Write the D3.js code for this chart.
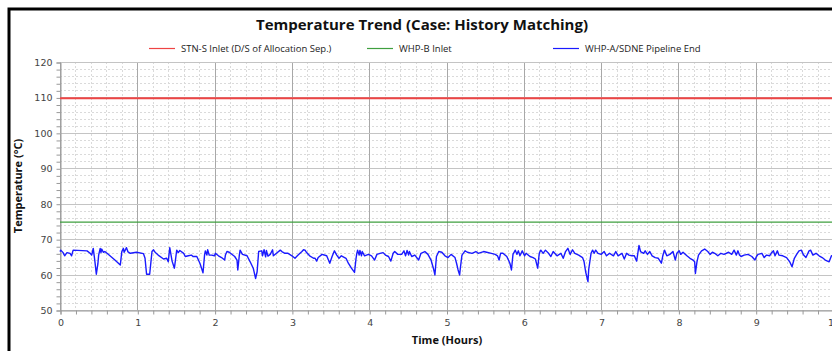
<!DOCTYPE html>
<html>
<head>
<meta charset="utf-8">
<script src="https://cdn.jsdelivr.net/npm/d3@7"></script>
<style>
  body { margin: 0; background: #fff; }
  svg { display: block; }
</style>
</head>
<body>
<div id="chart"></div>
<script>
// ---- data ----
var chartTitle = "Temperature Trend (Case: History Matching)";
var seriesNames = ["STN-S Inlet (D/S of Allocation Sep.)", "WHP-B Inlet", "WHP-A/SDNE Pipeline End"];
var seriesColors = ["#ee4444", "#3f9f3f", "#1a1aff"];
var xTicks = [0, 1, 2, 3, 4, 5, 6, 7, 8, 9, 10];
var yTicks = [50, 60, 70, 80, 90, 100, 110, 120];

// flat series (start / end of run)
var stnInlet = [[0, 109.8], [10, 109.8]];
var whpbInlet = [[0, 74.8], [10, 74.8]];

// WHP-A/SDNE pipeline end [hour, degC]
var pipelineEnd = [
  [0.00, 66.5], [0.01, 66.9], [0.04, 66.2], [0.06, 65.3], [0.09, 66.2], [0.13, 66.0], [0.15, 65.3],
  [0.17, 66.9], [0.35, 66.7], [0.39, 66.0], [0.41, 65.5], [0.43, 67.4], [0.45, 64.0], [0.47, 60.1],
  [0.49, 63.0], [0.50, 65.5], [0.52, 67.4], [0.53, 66.2], [0.54, 67.2], [0.56, 66.3], [0.58, 66.5],
  [0.62, 65.8], [0.71, 64.1], [0.78, 62.7], [0.80, 66.5], [0.82, 67.4], [0.83, 66.3], [0.86, 67.6],
  [0.88, 66.4], [0.91, 66.0], [0.99, 66.3], [1.08, 65.9], [1.10, 64.6], [1.12, 60.1], [1.16, 60.1],
  [1.19, 66.5], [1.21, 67.0], [1.23, 66.3], [1.27, 65.5], [1.34, 64.4], [1.38, 64.6], [1.40, 63.6],
  [1.42, 67.6], [1.45, 63.8], [1.48, 61.8], [1.51, 66.9], [1.53, 66.2], [1.55, 66.8], [1.60, 66.0],
  [1.62, 65.1], [1.66, 65.3], [1.70, 65.5], [1.72, 65.1], [1.77, 65.1], [1.81, 63.2], [1.85, 60.5],
  [1.87, 65.5], [1.88, 66.7], [1.90, 65.5], [1.91, 67.0], [1.93, 65.5], [1.96, 65.5], [2.00, 65.3],
  [2.01, 66.0], [2.05, 65.3], [2.09, 64.8], [2.13, 64.1], [2.14, 65.5], [2.16, 66.5], [2.19, 66.3],
  [2.26, 65.1], [2.29, 64.1], [2.30, 61.3], [2.32, 65.5], [2.33, 66.9], [2.36, 65.7], [2.42, 65.3],
  [2.46, 63.6], [2.50, 61.8], [2.53, 58.9], [2.55, 60.8], [2.57, 66.5], [2.61, 66.7], [2.62, 65.3],
  [2.64, 67.0], [2.66, 65.0], [2.67, 66.8], [2.69, 65.2], [2.72, 65.7], [2.75, 67.0], [2.76, 65.3],
  [2.80, 66.0], [2.85, 66.9], [2.87, 66.5], [2.91, 66.0], [2.95, 66.0], [3.00, 65.3], [3.04, 64.6],
  [3.08, 65.5], [3.13, 66.5], [3.15, 67.0], [3.17, 66.9], [3.19, 66.2], [3.23, 65.3], [3.28, 64.6],
  [3.30, 64.6], [3.32, 63.8], [3.34, 64.8], [3.39, 65.7], [3.45, 65.3], [3.49, 63.2], [3.52, 65.1],
  [3.55, 66.7], [3.58, 65.5], [3.61, 64.6], [3.64, 65.3], [3.70, 64.6], [3.73, 63.2], [3.77, 61.8],
  [3.81, 60.6], [3.83, 64.6], [3.84, 66.0], [3.85, 66.9], [3.87, 65.5], [3.88, 66.8], [3.90, 65.3],
  [3.91, 66.5], [3.94, 65.3], [3.99, 65.7], [4.03, 65.3], [4.07, 64.1], [4.10, 65.7], [4.14, 66.0],
  [4.18, 66.2], [4.21, 65.5], [4.25, 65.1], [4.28, 63.8], [4.31, 66.0], [4.33, 66.5], [4.37, 65.7],
  [4.42, 65.7], [4.45, 66.7], [4.47, 65.3], [4.49, 66.8], [4.51, 65.5], [4.52, 66.5], [4.55, 65.1],
  [4.59, 65.5], [4.64, 64.1], [4.67, 66.0], [4.72, 66.5], [4.76, 65.7], [4.80, 64.1], [4.83, 61.8],
  [4.85, 59.9], [4.87, 65.1], [4.90, 66.5], [4.94, 66.3], [4.98, 65.3], [5.02, 64.8], [5.06, 65.7],
  [5.11, 64.8], [5.13, 63.2], [5.15, 61.3], [5.17, 59.9], [5.18, 62.0], [5.20, 65.5], [5.24, 66.7],
  [5.27, 66.3], [5.33, 66.0], [5.38, 66.5], [5.41, 66.0], [5.48, 66.5], [5.52, 66.3], [5.58, 66.0],
  [5.63, 65.7], [5.66, 65.3], [5.68, 64.1], [5.70, 66.0], [5.73, 66.0], [5.78, 65.1], [5.82, 63.2],
  [5.84, 61.3], [5.86, 65.7], [5.89, 66.9], [5.91, 65.7], [5.93, 66.7], [5.95, 65.3], [5.98, 66.7],
  [6.01, 65.3], [6.03, 66.0], [6.08, 65.1], [6.12, 64.8], [6.15, 64.4], [6.18, 61.8], [6.20, 66.0],
  [6.22, 66.9], [6.25, 66.0], [6.28, 66.9], [6.32, 66.0], [6.35, 65.1], [6.38, 66.5], [6.43, 65.3],
  [6.48, 66.0], [6.51, 64.6], [6.54, 66.5], [6.57, 67.4], [6.60, 65.7], [6.63, 67.0], [6.66, 66.0],
  [6.71, 65.5], [6.76, 64.8], [6.78, 63.6], [6.80, 60.8], [6.83, 58.0], [6.84, 61.5], [6.87, 66.0],
  [6.89, 66.9], [6.91, 66.0], [6.93, 66.9], [6.96, 66.0], [7.00, 65.7], [7.04, 66.5], [7.07, 65.3],
  [7.11, 66.0], [7.16, 65.3], [7.19, 66.5], [7.22, 65.3], [7.27, 66.0], [7.30, 64.4], [7.33, 66.0],
  [7.36, 65.5], [7.40, 65.3], [7.43, 65.3], [7.46, 63.8], [7.49, 68.2], [7.51, 66.5], [7.55, 66.0],
  [7.57, 66.7], [7.60, 65.7], [7.63, 66.5], [7.66, 65.3], [7.70, 64.8], [7.74, 64.6], [7.78, 63.2],
  [7.80, 65.5], [7.82, 66.9], [7.85, 65.3], [7.89, 65.7], [7.93, 66.5], [7.96, 64.1], [7.98, 66.0],
  [8.01, 66.7], [8.03, 65.7], [8.06, 66.3], [8.11, 65.3], [8.15, 64.6], [8.19, 64.1], [8.21, 63.6],
  [8.22, 60.3], [8.24, 63.6], [8.26, 65.5], [8.30, 66.7], [8.34, 67.2], [8.38, 66.5], [8.41, 65.7],
  [8.44, 66.3], [8.47, 66.0], [8.51, 65.3], [8.55, 66.0], [8.59, 65.7], [8.65, 66.3], [8.69, 65.7],
  [8.72, 66.9], [8.75, 65.5], [8.77, 66.7], [8.79, 65.5], [8.81, 65.1], [8.85, 65.5], [8.90, 65.7],
  [8.95, 65.1], [8.99, 64.1], [9.01, 65.1], [9.03, 65.7], [9.08, 66.0], [9.11, 64.8], [9.14, 65.5],
  [9.18, 65.3], [9.20, 66.0], [9.23, 66.7], [9.25, 65.3], [9.28, 66.7], [9.30, 65.5], [9.35, 65.3],
  [9.40, 64.8], [9.44, 63.6], [9.47, 62.2], [9.50, 64.6], [9.53, 65.7], [9.56, 66.7], [9.59, 66.9],
  [9.62, 65.5], [9.65, 64.8], [9.69, 66.7], [9.71, 66.9], [9.74, 65.5], [9.78, 66.0], [9.82, 65.3],
  [9.86, 64.8], [9.90, 64.1], [9.95, 63.6], [9.98, 65.3], [10.0, 65.3]
];

var W = 832, H = 351;
var plot = { left: 60, right: 833, top: 62, bottom: 310 };

var svg = d3.select("#chart").append("svg")
  .attr("width", W)
  .attr("height", H)
  .style("font-family", "'Open Sans', sans-serif");

var x = d3.scaleLinear().domain([0, 10]).range([plot.left, plot.right]);
var y = d3.scaleLinear().domain([50, 120]).range([plot.bottom, plot.top]);

// minor grid (dotted)
var xMinor = d3.range(0, 10.001, 0.2).filter(function(d) { return Math.abs(d - Math.round(d)) > 0.01; });
var yMinor = d3.range(50, 120.001, 2).filter(function(d) { return d % 10 !== 0; });

var grid = svg.append("g");
grid.selectAll(".vmin").data(xMinor).enter().append("line")
  .attr("x1", function(d) { return Math.round(x(d)) + 0.5; })
  .attr("x2", function(d) { return Math.round(x(d)) + 0.5; })
  .attr("y1", plot.top).attr("y2", plot.bottom)
  .attr("stroke", "#dadada").attr("stroke-dasharray", "2,2");
grid.selectAll(".hmin").data(yMinor).enter().append("line")
  .attr("x1", plot.left).attr("x2", plot.right)
  .attr("y1", function(d) { return Math.round(y(d)) + 0.5; })
  .attr("y2", function(d) { return Math.round(y(d)) + 0.5; })
  .attr("stroke", "#dadada").attr("stroke-dasharray", "2,2");

// major grid
grid.selectAll(".vmaj").data(xTicks).enter().append("line")
  .attr("x1", function(d) { return Math.round(x(d)) + 0.5; })
  .attr("x2", function(d) { return Math.round(x(d)) + 0.5; })
  .attr("y1", plot.top).attr("y2", plot.bottom)
  .attr("stroke", "#a8a8a8");
grid.selectAll(".hmaj").data(yTicks).enter().append("line")
  .attr("x1", plot.left).attr("x2", plot.right)
  .attr("y1", function(d) { return Math.round(y(d)) + 0.5; })
  .attr("y2", function(d) { return Math.round(y(d)) + 0.5; })
  .attr("stroke", "#c4c4c4");

// axes
var yAxis = d3.axisLeft(y).tickValues(d3.range(50, 120.001, 2)).tickSize(4)
  .tickFormat(function(d) { return d % 10 === 0 ? d : ""; });
var gy = svg.append("g").attr("transform", "translate(" + (plot.left + 0.5) + ",0.5)").call(yAxis);
var xAxis = d3.axisBottom(x).tickValues(d3.range(0, 10.001, 0.2)).tickSize(4)
  .tickFormat(function(d) { return Math.abs(d - Math.round(d)) < 0.01 ? Math.round(d) : ""; });
var gx = svg.append("g").attr("transform", "translate(0.5," + (plot.bottom + 0.5) + ")").call(xAxis);

[gy, gx].forEach(function(g) {
  g.select(".domain").attr("stroke", "#999");
  g.selectAll(".tick line").attr("stroke", "#999");
  g.selectAll("text").attr("fill", "#444")
    .style("font-family", "'DejaVu Sans', Verdana, sans-serif").style("font-size", "9.5px");
});
gy.selectAll("text").attr("x", -8);
gx.selectAll("text").attr("y", 9);

// series
var line = d3.line()
  .x(function(d) { return x(d[0]); })
  .y(function(d) { return y(d[1]); });

svg.append("path").datum(stnInlet).attr("d", line)
  .attr("fill", "none").attr("stroke", seriesColors[0]).attr("stroke-width", 2);
svg.append("path").datum(whpbInlet).attr("d", line)
  .attr("fill", "none").attr("stroke", seriesColors[1]).attr("stroke-width", 1.2);
svg.append("path").datum(pipelineEnd).attr("d", line)
  .attr("fill", "none").attr("stroke", seriesColors[2]).attr("stroke-width", 1.4)
  .attr("stroke-linejoin", "round");

// frame (outer black border, left + top visible)
svg.append("path")
  .attr("d", "M9," + H + "V9H" + W)
  .attr("fill", "none").attr("stroke", "#000").attr("stroke-width", 3);

// title
svg.append("text")
  .attr("x", 422).attr("y", 30)
  .attr("text-anchor", "middle")
  .style("font-size", "15px").style("font-weight", "bold")
  .attr("fill", "#111")
  .text(chartTitle);

// legend
var legendX = [149, 367, 553];
var leg = svg.selectAll(".legend").data(seriesNames).enter().append("g")
  .attr("transform", function(d, i) { return "translate(" + legendX[i] + ",48)"; });
leg.append("line").attr("x1", 0).attr("x2", 26).attr("y1", 0.5).attr("y2", 0.5)
  .attr("stroke", function(d, i) { return seriesColors[i]; }).attr("stroke-width", 1.2);
leg.append("text").attr("x", 32).attr("y", 3.5)
  .style("font-size", "9.5px").attr("fill", "#222")
  .text(function(d) { return d; });

// axis titles
svg.append("text")
  .attr("transform", "translate(22," + ((plot.top + plot.bottom) / 2) + ") rotate(-90)")
  .attr("text-anchor", "middle")
  .style("font-size", "11px").style("font-weight", "bold").attr("fill", "#111")
  .text("Temperature (°C)");
svg.append("text")
  .attr("x", 447).attr("y", 344)
  .attr("text-anchor", "middle")
  .style("font-size", "11px").style("font-weight", "bold").attr("fill", "#111")
  .text("Time (Hours)");
</script>
</body>
</html>
